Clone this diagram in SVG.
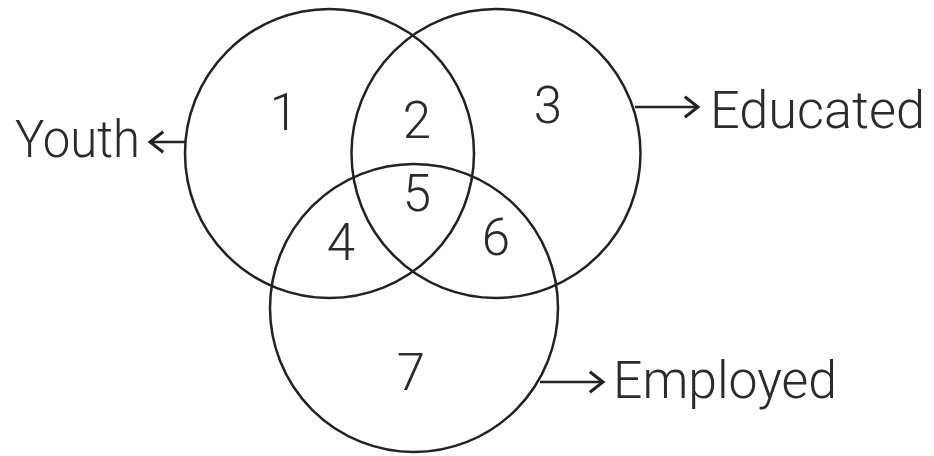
<svg xmlns="http://www.w3.org/2000/svg" width="934" height="456" viewBox="0 0 934 456">
<style>
.c{fill:none;stroke:#222;stroke-width:2.5}
.a{fill:none;stroke:#222;stroke-width:2.5}
.t{font-family:Roboto,"Liberation Sans",Arial,sans-serif;font-weight:300;font-size:51px;fill:#2b2b2b}
.n{font-family:Roboto,"Liberation Sans",Arial,sans-serif;font-weight:300;font-size:51px;fill:#2b2b2b;text-anchor:middle}
</style>
<defs>
<marker id="ah" markerUnits="userSpaceOnUse" markerWidth="20" markerHeight="24" viewBox="-14 -10 16 20" refX="0" refY="0" orient="auto">
<path d="M-11,-8.5 L0,0 L-11,8.5" fill="none" stroke="#222" stroke-width="2.5"/>
</marker>
</defs>
<g id="youth">
<circle class="c" cx="329.5" cy="153.5" r="144.5"/>
<text class="t" x="15" y="157" textLength="125" lengthAdjust="spacingAndGlyphs">Youth</text>
</g>
<g id="educated">
<circle class="c" cx="496" cy="153.5" r="144.5"/>
<text class="t" x="710" y="128" textLength="215" lengthAdjust="spacingAndGlyphs">Educated</text>
</g>
<g id="employed">
<circle class="c" cx="414" cy="308" r="144"/>
<text class="t" x="613" y="398" textLength="224" lengthAdjust="spacingAndGlyphs">Employed</text>
</g>
<g id="regions">
<text class="n" x="284" y="130">1</text>
<text class="n" x="417" y="138">2</text>
<text class="n" x="548" y="123">3</text>
<text class="n" x="341" y="260">4</text>
<text class="n" x="417" y="211">5</text>
<text class="n" x="496" y="255">6</text>
<text class="n" x="411" y="390">7</text>
</g>
<g id="connectors">
<line class="a" x1="186" y1="142" x2="150" y2="142" marker-end="url(#ah)"/>
<line class="a" x1="635" y1="107" x2="698" y2="107" marker-end="url(#ah)"/>
<line class="a" x1="540" y1="382" x2="603" y2="382" marker-end="url(#ah)"/>
</g>
</svg>
